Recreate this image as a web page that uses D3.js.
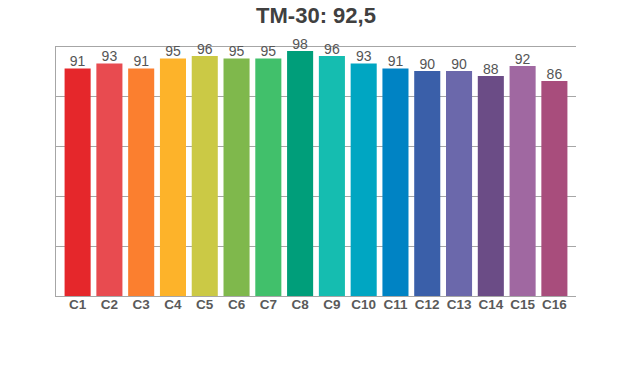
<!DOCTYPE html>
<html>
<script src="https://d3js.org/d3.v7.min.js"></script>

<head>
    <style>
        body {
            margin: 0;
            background-color: #ffffff;
            font-family: "Liberation Sans", Arial, Helvetica, sans-serif;
        }

        svg {
            display: block;
        }
    </style>
</head>

<body>
</body>
<script>
    const width = 620,
        height = 370;
    const margin = { top: 46, right: 44, bottom: 74, left: 56 };

    const title = "TM-30: 92,5";
    const categories = ["C1", "C2", "C3", "C4", "C5", "C6", "C7", "C8",
        "C9", "C10", "C11", "C12", "C13", "C14", "C15", "C16"];
    const values = [91, 93, 91, 95, 96, 95, 95, 98, 96, 93, 91, 90, 90, 88, 92, 86];
    const colors = ["#e5272b", "#e84b50", "#fb7f2f", "#fdb32a", "#cbc945", "#7fb84c",
        "#41c06b", "#009e7a", "#15bdb0", "#00a6c2", "#0083c4", "#3a5fa9",
        "#6b68ab", "#6b4c86", "#a068a1", "#a84d7c"];
    const yTicks = [0, 20, 40, 60, 80, 100];

    const svg = d3.select("body").append("svg").attr("width", width).attr("height", height);

    const x = d3.scaleBand()
        .domain(categories)
        .range([margin.left, width - margin.right])
        .paddingInner(0.18)
        .paddingOuter(0.27);
    const y = d3.scaleLinear()
        .domain([0, 100])
        .range([height - margin.bottom, margin.top]);

    // gridlines
    svg.append("g")
        .selectAll("line")
        .data(yTicks)
        .join("line")
        .attr("x1", margin.left)
        .attr("x2", width - margin.right)
        .attr("y1", d => y(d) + 0.5)
        .attr("y2", d => y(d) + 0.5)
        .attr("stroke", "#a6a6a6")
        .attr("stroke-width", 1);

    // left axis line
    svg.append("line")
        .attr("x1", margin.left - 0.5)
        .attr("x2", margin.left - 0.5)
        .attr("y1", y(100))
        .attr("y2", y(0) + 1)
        .attr("stroke", "#a6a6a6");

    const data = categories.map((c, i) => ({ cat: c, val: values[i], color: colors[i] }));

    svg.append("g")
        .selectAll("rect")
        .data(data)
        .join("rect")
        .attr("x", d => x(d.cat))
        .attr("width", x.bandwidth())
        .attr("y", d => y(d.val))
        .attr("height", d => y(0) - y(d.val))
        .attr("fill", d => d.color);

    svg.append("g")
        .selectAll("text")
        .data(data)
        .join("text")
        .attr("x", d => x(d.cat) + x.bandwidth() / 2)
        .attr("y", d => y(d.val) - 2.5)
        .attr("text-anchor", "middle")
        .attr("font-size", 14)
        .attr("fill", "#555555")
        .text(d => d.val);

    // category labels
    svg.append("g")
        .selectAll("text")
        .data(categories)
        .join("text")
        .attr("x", d => x(d) + x.bandwidth() / 2)
        .attr("y", y(0) + 12.5)
        .attr("text-anchor", "middle")
        .attr("font-size", 13.5)
        .attr("font-weight", "bold")
        .attr("fill", "#5a5a5a")
        .text(d => d);

    svg.append("text")
        .attr("x", (margin.left + width - margin.right) / 2)
        .attr("y", 23)
        .attr("text-anchor", "middle")
        .attr("font-size", 22)
        .attr("font-weight", "bold")
        .attr("fill", "#404040")
        .text(title);
</script>

</html>
